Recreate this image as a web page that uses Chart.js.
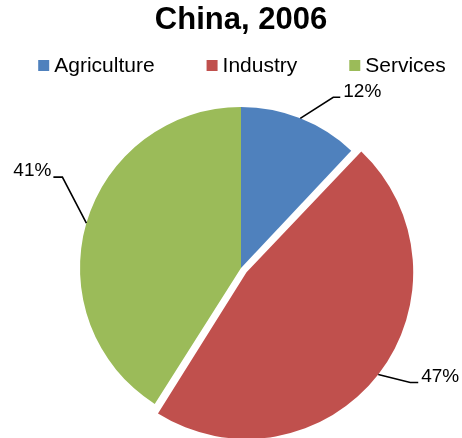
<!DOCTYPE html>
<html>
<head>
<meta charset="utf-8">
<script src="https://cdn.jsdelivr.net/npm/chart.js@4.4.1/dist/chart.umd.min.js"></script>
<style>
  html, body { margin: 0; padding: 0; background: #fff; }
  canvas { display: block; }
</style>
</head>
<body>
<canvas id="sectorChart" width="462" height="438"></canvas>
<script>
const sectors = ['Agriculture', 'Industry', 'Services'];
const shares = [12, 47, 41];
const sectorColors = ['#4F81BD', '#C0504D', '#9BBB59'];

const FONT = "'Liberation Sans', Arial, sans-serif";

// Legend row drawn under the title
const legendRow = {
    id: 'legendRow',
    afterDraw(chart) {
        const ctx = chart.ctx;
        ctx.save();
        ctx.font = '21px ' + FONT;
        const box = 11, gap = 5, spacing = 52;
        const widths = sectors.map(s => ctx.measureText(s).width);
        const total = widths.reduce((a, w) => a + box + gap + w, 0) + spacing * (sectors.length - 1);
        let x = 242 - total / 2;
        const y = 66;
        ctx.textBaseline = 'middle';
        sectors.forEach((s, i) => {
            ctx.fillStyle = sectorColors[i];
            ctx.fillRect(x, y - 6, box, box);
            ctx.fillStyle = '#000';
            ctx.fillText(s, x + box + gap, y);
            x += box + gap + widths[i] + spacing;
        });
        ctx.restore();
    }
};

// Percent labels with leader lines: elbow offset from the slice edge, then a short tail
const leaders = [
    { dx: 33, dy: -21, tail: 7 },
    { dx: 32, dy: 8, tail: 8 },
    { dx: -24, dy: -46, tail: -9 }
];

const percentLabels = {
    id: 'percentLabels',
    afterDatasetsDraw(chart) {
        const ctx = chart.ctx;
        const meta = chart.getDatasetMeta(0);
        ctx.save();
        ctx.strokeStyle = '#000';
        ctx.lineWidth = 1.6;
        ctx.fillStyle = '#000';
        ctx.font = '19px ' + FONT;
        ctx.textBaseline = 'middle';
        meta.data.forEach((arc, i) => {
            const mid = (arc.startAngle + arc.endAngle) / 2;
            // same shift the arc element applies for its offset
            const off = (arc.options.offset || 0) / 4;
            const fix = 1 - Math.sin(Math.min(Math.PI, arc.circumference));
            const shift = off + off * fix;
            const r = arc.outerRadius + shift;
            const x0 = arc.x + Math.cos(mid) * r;
            const y0 = arc.y + Math.sin(mid) * r;
            const l = leaders[i];
            const x1 = x0 + l.dx, y1 = y0 + l.dy;
            const x2 = x1 + l.tail;
            ctx.beginPath();
            ctx.moveTo(x0, y0);
            ctx.lineTo(x1, y1);
            ctx.lineTo(x2, y1);
            ctx.stroke();
            const right = l.tail > 0;
            ctx.textAlign = right ? 'left' : 'right';
            ctx.fillText(shares[i] + '%', x2 + (right ? 3 : -2), y1 - 6);
        });
        ctx.restore();
    }
};

const ctx = document.getElementById('sectorChart').getContext('2d');
const sectorChart = new Chart(ctx, {
    type: 'pie',
    data: {
        labels: sectors,
        datasets: [{
            data: shares,
            backgroundColor: sectorColors,
            borderWidth: 0,
            offset: [0, 28, 0]
        }]
    },
    options: {
        responsive: false,
        devicePixelRatio: 1,
        animation: false,
        radius: 161,
        layout: {
            padding: { left: 20, right: 0, top: 0, bottom: 0 }
        },
        plugins: {
            legend: { display: false },
            tooltip: { enabled: false },
            title: {
                display: true,
                text: 'China, 2006',
                color: '#000',
                font: { family: FONT, size: 31, weight: 'bold' },
                padding: { top: 2, bottom: 58.8 }
            }
        }
    },
    plugins: [legendRow, percentLabels]
});
</script>
</body>
</html>
